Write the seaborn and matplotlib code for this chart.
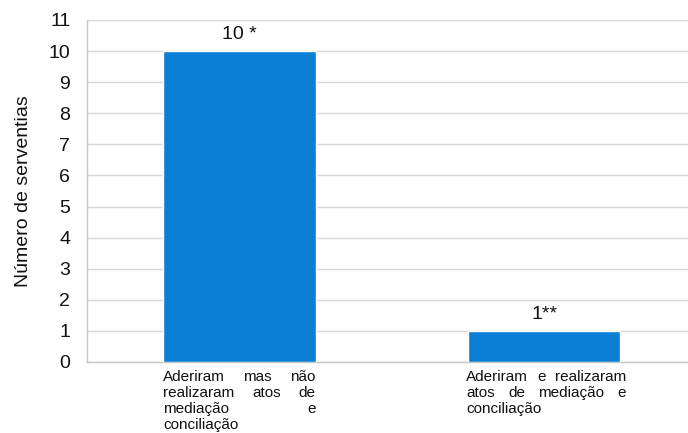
import matplotlib

matplotlib.use("Agg")
import matplotlib.pyplot as plt
import matplotlib.transforms as mtransforms
import pandas as pd
import seaborn as sns

# ---------------------------------------------------------------------------
# Data
# ---------------------------------------------------------------------------

categories = ["aderiram_nao_realizaram", "aderiram_realizaram"]
serventias = [10, 1]
bar_labels = ["10 *", "1**"]
category_lines = [
    ["Aderiram mas não", "realizaram atos de", "mediação e", "conciliação"],
    ["Aderiram e realizaram", "atos de mediação e", "conciliação"],
]
y_ticks = list(range(0, 12))

df = pd.DataFrame({"categoria": categories, "serventias": serventias})

# ---------------------------------------------------------------------------
# Plot
# ---------------------------------------------------------------------------

sns.set_style("white")
plt.rcParams["font.family"] = ["Liberation Sans", "DejaVu Sans"]
plt.rcParams["text.color"] = "#111111"
plt.rcParams["axes.labelcolor"] = "#111111"
plt.rcParams["ytick.labelcolor"] = "#111111"

fig = plt.figure(figsize=(6.88, 4.33), dpi=100)
ax = fig.add_axes([87 / 688, 1 - 362 / 433, 1 - 87 / 688, (362 - 20) / 433])

sns.barplot(
    data=df,
    x="categoria",
    y="serventias",
    color="#0a7fd5",
    saturation=1,
    width=0.5,
    ax=ax,
    zorder=3,
)

ax.set_xlim(-0.5, 1.472)
ax.set_ylim(0, 11)
ax.set_yticks(y_ticks)
ax.tick_params(axis="y", labelsize=14, length=8, color="#c8c8c8", width=1, pad=4)
ax.tick_params(axis="x", length=0, labelbottom=False)
ax.yaxis.grid(True, color="#d6d6d6", linewidth=1, zorder=0)
ax.set_axisbelow(True)
for side in ["top", "right"]:
    ax.spines[side].set_visible(False)
for side in ["left", "bottom"]:
    ax.spines[side].set_color("#c8c8c8")
    ax.spines[side].set_linewidth(1)

ax.set_xlabel("")
ax.set_ylabel("Número de serventias", fontsize=14, labelpad=12)

ax.bar_label(ax.containers[0], labels=bar_labels, fontsize=14, padding=6)

# justified category labels under each bar
fig.canvas.draw()
renderer = fig.canvas.get_renderer()
trans = mtransforms.blended_transform_factory(ax.transData, ax.transAxes)
spans = [(-0.25, 0.25), (0.745, 1.268)]
line_step = 16.3 / 342  # in axes fraction
for (x0, x1), lines in zip(spans, category_lines):
    px0 = ax.transData.transform((x0, 0))[0]
    px1 = ax.transData.transform((x1, 0))[0]
    for i, line in enumerate(lines):
        y = -0.022 - i * line_step
        words = line.split()
        if len(words) == 1 or i == len(lines) - 1:
            ax.text(x0, y, line, transform=trans, ha="left", va="top", fontsize=11)
            continue
        texts = [ax.text(x0, y, w, transform=trans, ha="left", va="top", fontsize=11) for w in words]
        widths = [t.get_window_extent(renderer).width for t in texts]
        gap = ((px1 - px0) - sum(widths)) / (len(words) - 1)
        pos = px0
        for t, w in zip(texts, widths):
            xd = ax.transData.inverted().transform((pos, 0))[0]
            t.set_x(xd)
            pos += w + gap

fig.savefig("out.png", dpi=100)
